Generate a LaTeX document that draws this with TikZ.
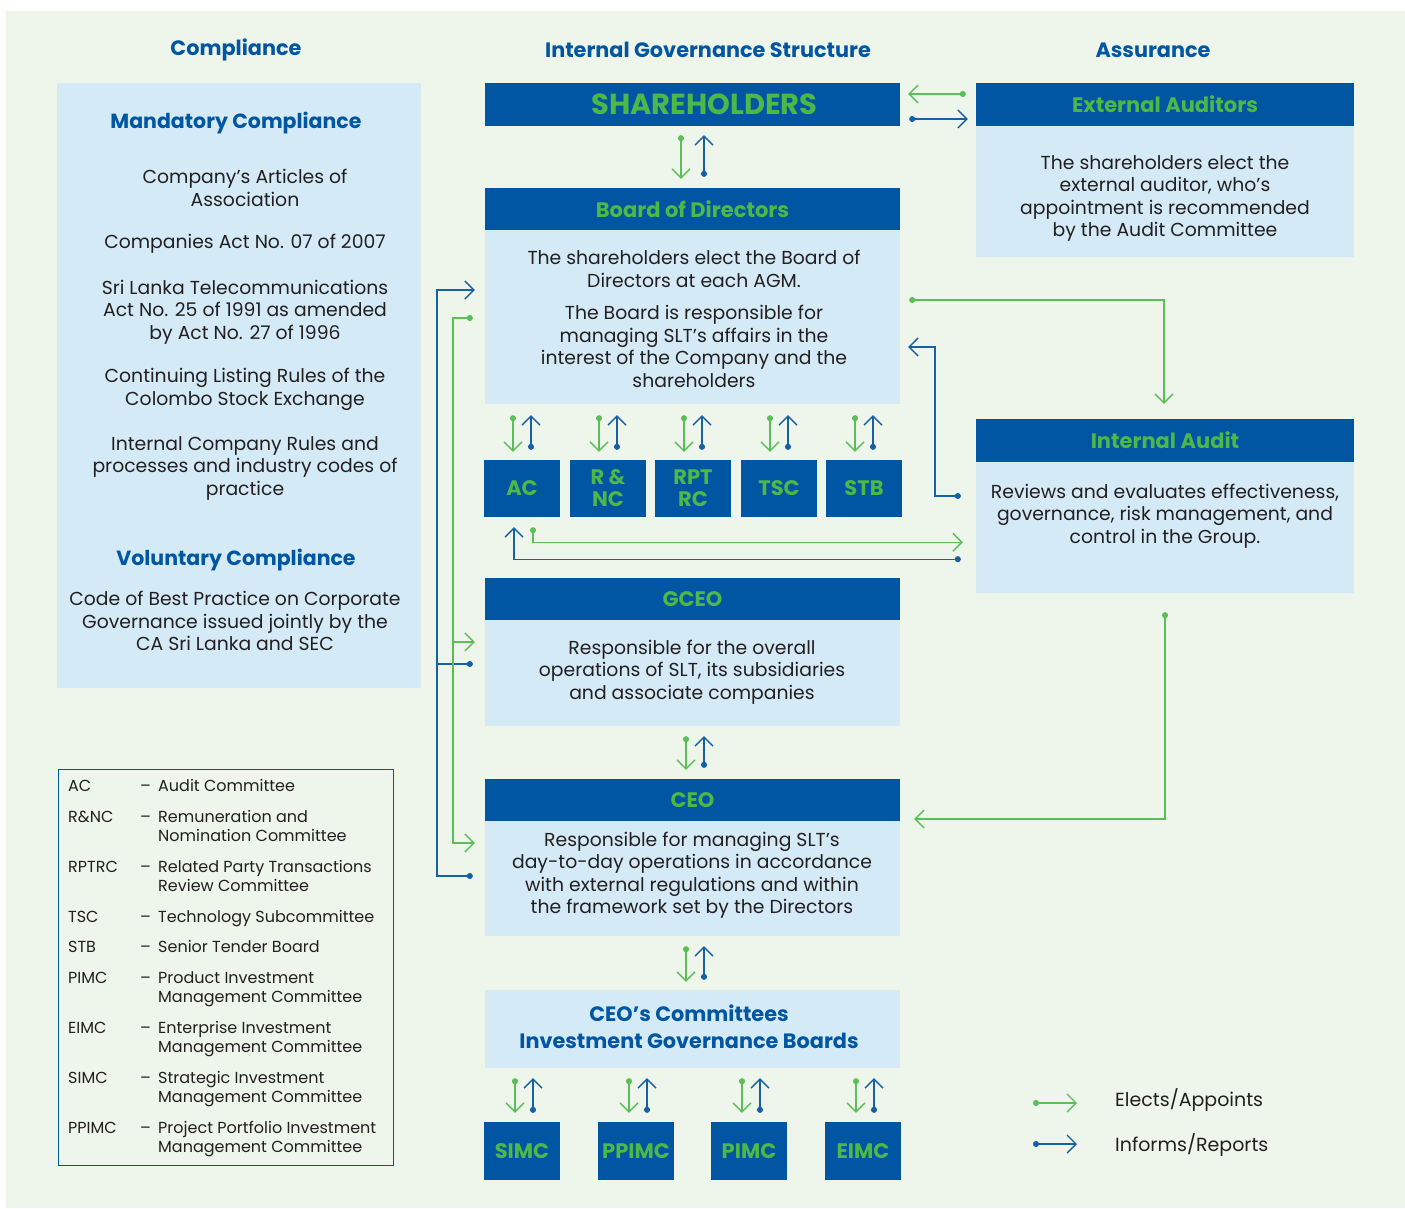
\documentclass[tikz,border=0pt]{standalone}
\usepackage{fontspec}
\setmainfont{Poppins}
\usetikzlibrary{arrows.meta,calc}
\definecolor{dblue}{RGB}{0,86,163}
\definecolor{tgreen}{RGB}{76,184,72}
\definecolor{agreen}{RGB}{92,190,88}
\definecolor{ablue}{RGB}{22,96,168}
\definecolor{lblue}{RGB}{212,234,247}
\definecolor{bgc}{RGB}{238,245,235}
\definecolor{tdark}{RGB}{35,31,32}
\tikzset{
  coltitle/.style={text=dblue, font=\bfseries\fontsize{20.8}{24}\selectfont, inner sep=0pt},
  ltitle/.style={text=dblue, font=\bfseries\fontsize{20.5}{24}\selectfont, inner sep=0pt},
  hdr/.style={fill=dblue, text=tgreen, font=\bfseries\fontsize{21}{24}\selectfont, inner sep=0pt, minimum width=415pt, minimum height=42pt},
  rhdr/.style={hdr, minimum width=378pt},
  bodybox/.style={fill=lblue, inner sep=0pt, text=tdark, font=\fontsize{18.8}{22.5}\selectfont, align=center, minimum width=415pt},
  btext/.style={text=tdark, font=\fontsize{18.8}{22.5}\selectfont, align=center, inner sep=0pt},
  subbox/.style={fill=dblue, text=tgreen, font=\bfseries\fontsize{21}{22}\selectfont, minimum width=76pt, minimum height=57pt, inner sep=0pt, align=center},
  gar/.style={draw=agreen, line width=1.4pt, {Circle[length=6pt]}-{Straight Barb[length=9pt,width=18pt]}},
  bar/.style={draw=ablue, line width=1.4pt, {Circle[length=6pt]}-{Straight Barb[length=9pt,width=18pt]}},
  gbranch/.style={draw=agreen, line width=1.4pt, -{Straight Barb[length=9pt,width=18pt]}},
  bbranch/.style={draw=ablue, line width=1.4pt, -{Circle[length=6pt]}},
  legtext/.style={text=tdark, font=\fontsize{19}{22}\selectfont, inner sep=0pt, anchor=west},
}
\begin{document}
\begin{tikzpicture}[x=1pt,y=-1pt]
\useasboundingbox (0,0) rectangle (1405,1208);
\fill[bgc] (6,11) rectangle (1405,1208);

% column titles
\node[coltitle] (tc) at (236,50) {Compliance};
\node[coltitle] (tg) at (708,50) {Internal Governance Structure};
\node[coltitle] (ta) at (1153,50) {Assurance};

% compliance box
\node[fill=lblue, minimum width=364pt, minimum height=605pt, inner sep=0pt] (lc) at (239,385.5) {};
\node[ltitle] (mc) at (236,123) {Mandatory Compliance};
\node[btext] (p1) at (245,188) {Company’s Articles of\\Association};
\node[btext] (p2) at (245,244) {Companies Act No. 07 of 2007};
\node[btext] (p3) at (245,312) {Sri Lanka Telecommunications\\Act No. 25 of 1991 as amended\\by Act No. 27 of 1996};
\node[btext] (p4) at (245,389.5) {Continuing Listing Rules of the\\Colombo Stock Exchange};
\node[btext] (p5) at (245,468) {Internal Company Rules and\\processes and industry codes of\\practice};
\node[ltitle] (vc) at (236,560) {Voluntary Compliance};
\node[btext] (p6) at (235,621) {Code of Best Practice on Corporate\\Governance issued jointly by the\\CA Sri Lanka and SEC};

% abbreviations legend
\node[draw=dblue, line width=1pt, minimum width=335pt, minimum height=396pt, inner sep=0pt] (legbox) at (225.5,967) {};
\node[text=tdark, font=\fontsize{16}{19.5}\selectfont, anchor=north west, inner sep=0pt] (legtab) at (68,778) {%
\begin{tabular}{@{}p{72pt}@{}p{18pt}@{}l@{}}
AC & – & Audit Committee\\[11pt]
R\&NC & – & Remuneration and\\
 & & Nomination Committee\\[11pt]
RPTRC & – & Related Party Transactions\\
 & & Review Committee\\[11pt]
TSC & – & Technology Subcommittee\\[11pt]
STB & – & Senior Tender Board\\[11pt]
PIMC & – & Product Investment\\
 & & Management Committee\\[11pt]
EIMC & – & Enterprise Investment\\
 & & Management Committee\\[11pt]
SIMC & – & Strategic Investment\\
 & & Management Committee\\[11pt]
PPIMC & – & Project Portfolio Investment\\
 & & Management Committee
\end{tabular}};

% middle column
\node[hdr, font=\bfseries\fontsize{29}{32}\selectfont, minimum height=43pt] (sh) at (692.5,104.5) {\hspace*{24pt}SHAREHOLDERS};
\node[hdr] (bodh) at (692.5,209) {Board of Directors};
\node[bodybox, minimum height=174pt] (bodb) at (692.5,317) {};
\node[btext] (bodt) at (694,319) {The shareholders elect the Board of\\Directors at each AGM.\\[10pt]The Board is responsible for\\managing SLT’s affairs in the\\interest of the Company and the\\shareholders};

\node[subbox] (ac) at (522,488.5) {AC};
\node[subbox] (rnc) at (608,488.5) {R \&\\NC};
\node[subbox] (rpt) at (693,488.5) {RPT\\RC};
\node[subbox] (tsc) at (779,488.5) {TSC};
\node[subbox] (stb) at (864,488.5) {STB};

\node[hdr] (gceoh) at (692.5,599) {GCEO};
\node[bodybox, minimum height=106pt] (gceob) at (692.5,673) {};
\node[btext] (gceot) at (692,672) {Responsible for the overall\\operations of SLT, its subsidiaries\\and associate companies};

\node[hdr] (ceoh) at (692.5,800) {CEO};
\node[bodybox, minimum height=115pt] (ceob) at (692.5,878.5) {};
\node[btext] (ceot) at (692,875) {Responsible for managing SLT’s\\day-to-day operations in accordance\\with external regulations and within\\the framework set by the Directors};

\node[bodybox, minimum height=78pt] (cc) at (692.5,1029) {};
\node[text=dblue, font=\bfseries\fontsize{20.8}{27}\selectfont, align=center, inner sep=0pt] (cct) at (689,1027) {CEO’s Committees\\Investment Governance Boards};

\node[subbox, minimum height=58pt] (simc) at (522,1151) {SIMC};
\node[subbox, minimum height=58pt] (ppimc) at (636,1151) {PPIMC};
\node[subbox, minimum height=58pt] (pimc) at (749,1151) {PIMC};
\node[subbox, minimum height=58pt] (eimc) at (863,1151) {EIMC};

% right column
\node[rhdr, minimum height=43pt] (exth) at (1165,104.5) {External Auditors};
\node[bodybox, minimum width=378pt, minimum height=131pt] (extb) at (1165,191.5) {};
\node[btext] (extt) at (1165,198.5) {The shareholders elect the\\external auditor, who’s\\appointment is recommended\\by the Audit Committee};

\node[rhdr, minimum height=43pt] (iah) at (1165,440.5) {Internal Audit};
\node[bodybox, minimum width=378pt, minimum height=131pt] (iab) at (1165,527.5) {};
\node[btext] (iat) at (1165,516) {Reviews and evaluates effectiveness,\\governance, risk management, and\\control in the Group.};

% vertical pairs
\draw[gar] ($(sh.south)+(-11.5,9)$) -- ($(bodh.north)+(-11.5,-9)$);
\draw[bar] ($(bodh.north)+(11.5,-11)$) -- ($(sh.south)+(11.5,9)$);

\foreach \c in {ac,rnc,rpt,tsc,stb}{
  \draw[gar] ($(\c.north |- bodb.south)+(-9,11)$) -- ($(\c.north)+(-9,-8)$);
  \draw[bar] ($(\c.north)+(9,-10)$) -- ($(\c.north |- bodb.south)+(9,11)$);
}

\draw[gar] ($(gceob.south)+(-6.5,10)$) -- ($(ceoh.north)+(-6.5,-9)$);
\draw[bar] ($(ceoh.north)+(11.5,-11)$) -- ($(gceob.south)+(11.5,10)$);
\draw[gar] ($(ceob.south)+(-6.5,10)$) -- ($(cc.north)+(-6.5,-8)$);
\draw[bar] ($(cc.north)+(11.5,-10)$) -- ($(ceob.south)+(11.5,10)$);

\foreach \c in {simc,ppimc,pimc,eimc}{
  \draw[gar] ($(\c.north |- cc.south)+(-7,10)$) -- ($(\c.north)+(-7,-9)$);
  \draw[bar] ($(\c.north)+(11,-9)$) -- ($(\c.north |- cc.south)+(11,10)$);
}

% AC <-> Internal Audit
\draw[bar] ($(iab.south west)+(-15,-34)$) -| ($(ac.south)+(-8,10)$);
\draw[gar] ($(ac.south)+(11,10)$) |- ($(iab.south west)+(-13,-51)$);

% left loops
\draw[bar] ($(ceob.west)+(-12,-2.5)$) -- ++(-36,0) |- ($(bodb.west)+(-10,-27)$);
\draw[bbranch] ($(gceob.west)+(-48,-9)$) -- ($(gceob.west)+(-12,-9)$);
\draw[gar] ($(bodb.west)+(-12,1)$) -- ++(-20,0) |- ($(ceob.west)+(-10,-35.5)$);
\draw[gbranch] ($(gceob.west)+(-32,-31)$) -- ($(gceob.west)+(-10,-31)$);

% shareholders <-> external auditors
\draw[gar] ($(exth.west)+(-10,-10.5)$) -- ($(sh.east)+(8,-10.5)$);
\draw[bar] ($(sh.east)+(9,14.5)$) -- ($(exth.west)+(-8,14.5)$);

% board <-> internal audit
\draw[gar] ($(bodb.east)+(9,-17)$) -| ($(iah.north)+(-1,-15)$);
\draw[bar] ($(iab.west)+(-15,-31.5)$) -- ++(-26,0) |- ($(bodb.east)+(8,30)$);

% internal audit -> CEO
\draw[gar] ($(iab.south)+(0,19)$) |- ($(ceoh.east)+(14,19)$);

% arrow legend
\node[legtext] (le) at (1115,1100) {Elects/Appoints};
\node[legtext] (lr) at (1115,1145) {Informs/Reports};
\draw[gar] ($(le.west)+(-82,3)$) -- ($(le.west)+(-38,3)$);
\draw[bar] ($(lr.west)+(-82,-1)$) -- ($(lr.west)+(-38,-1)$);
\end{tikzpicture}
\end{document}
